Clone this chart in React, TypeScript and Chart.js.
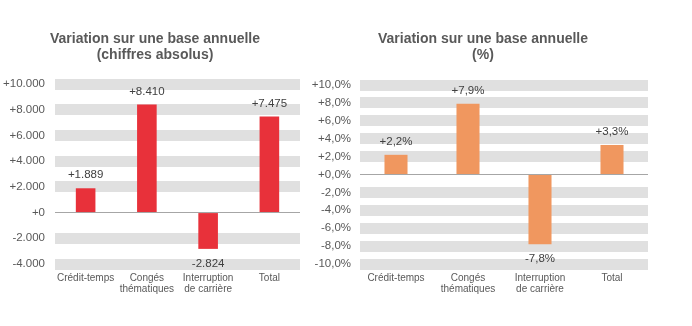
import React, { useEffect, useRef } from "react";
import { Chart, registerables } from "chart.js";

Chart.register(...registerables);

const categories: string[][] = [
  ["Crédit-temps"],
  ["Congés", "thématiques"],
  ["Interruption", "de carrière"],
  ["Total"],
];
const absoluteValues: number[] = [1889, 8410, -2824, 7475];
const percentValues: number[] = [2.2, 7.9, -7.8, 3.3];
const absTitle: string[] = ["Variation sur une base annuelle", "(chiffres absolus)"];
const pctTitle: string[] = ["Variation sur une base annuelle", "(%)"];

const FONT = "'Liberation Sans', Arial, sans-serif";

const fmtAbs = (v: number) => {
  const s = Math.abs(Math.round(v)).toString().replace(/\B(?=(\d{3})+(?!\d))/g, ".");
  return (v < 0 ? "-" : "+") + s;
};
const fmtPct = (v: number) => {
  const s = Math.abs(v).toFixed(1).replace(".", ",");
  return (v < 0 ? "-" : "+") + s + "%";
};

const labelPlugin = (fmt: (v: number) => string) => ({
  id: "barLabels",
  afterDatasetsDraw(chart: any) {
    const ctx = chart.ctx;
    const meta = chart.getDatasetMeta(0);
    const data = chart.data.datasets[0].data as number[];
    ctx.save();
    ctx.font = `11.5px ${FONT}`;
    ctx.fillStyle = "#404040";
    ctx.textAlign = "center";
    ctx.textBaseline = "middle";
    meta.data.forEach((bar: any, i: number) => {
      const v = data[i];
      const y = v >= 0 ? bar.y - 13 : bar.y + 14.5;
      ctx.fillText(fmt(v), bar.x, y);
    });
    ctx.restore();
  },
});

const titlePlugin = (lines: string[], cx: number) => ({
  id: "centeredTitle",
  afterDraw(chart: any) {
    const ctx = chart.ctx;
    ctx.save();
    ctx.font = `bold 14px ${FONT}`;
    ctx.fillStyle = "#595959";
    ctx.textAlign = "center";
    ctx.textBaseline = "middle";
    lines.forEach((t, i) => ctx.fillText(t, cx, 39.5 + 16 * i));
    ctx.restore();
  },
});

function makeConfig(
  values: number[],
  color: string,
  title: string[],
  titleX: number,
  min: number,
  max: number,
  step: number,
  fmt: (v: number) => string,
  yWidth: number,
  yPad: number,
  rightPad: number,
  topPad: number
): any {
  return {
    type: "bar",
    data: {
      labels: categories,
      datasets: [
        {
          data: values,
          backgroundColor: color,
          barPercentage: 0.32,
          categoryPercentage: 1,
        },
      ],
    },
    options: {
      responsive: false,
      animation: false,
      layout: { padding: { left: 0, right: rightPad, top: topPad, bottom: 0 } },
      plugins: {
        legend: { display: false },
        tooltip: { enabled: false },
        title: { display: false },
      },
      scales: {
        x: {
          grid: { display: false, drawTicks: false },
          border: { display: false },
          ticks: {
            color: "#595959",
            font: { family: FONT, size: 10, lineHeight: 1.1 },
            padding: 8.5,
            maxRotation: 0,
            autoSkip: false,
          },
          afterFit: (s: any) => {
            s.height = 62;
          },
        },
        y: {
          min,
          max,
          border: { display: false },
          grid: {
            drawTicks: false,
            color: (c: any) => (c.tick && c.tick.value === 0 ? "#a6a6a6" : "#e0e0e0"),
            lineWidth: (c: any) => (c.tick && c.tick.value === 0 ? 1 : 11),
          },
          ticks: {
            stepSize: step,
            color: "#595959",
            font: { family: FONT, size: 11.5 },
            padding: yPad,
            callback: (v: any) => fmt(Number(v)),
          },
          afterFit: (s: any) => {
            s.width = yWidth;
          },
        },
      },
    },
    plugins: [labelPlugin(fmt), titlePlugin(title, titleX)],
  };
}

export default function App() {
  const leftRef = useRef<HTMLCanvasElement>(null);
  const rightRef = useRef<HTMLCanvasElement>(null);

  useEffect(() => {
    const c1 = new Chart(
      leftRef.current!,
      makeConfig(absoluteValues, "#E8313A", absTitle, 155, -4000, 10000, 2000, fmtAbs, 55, 10, 10, 84)
    );
    const c2 = new Chart(
      rightRef.current!,
      makeConfig(percentValues, "#F0975F", pctTitle, 173, -10, 10, 2, fmtPct, 50, 9, 8, 85)
    );
    return () => {
      c1.destroy();
      c2.destroy();
    };
  }, []);

  return (
    <div style={{ position: "absolute", left: 0, top: 0, width: 692, height: 326, background: "#fff" }}>
      <canvas ref={leftRef} width={310} height={326} style={{ position: "absolute", left: 0, top: 0 }} />
      <canvas ref={rightRef} width={346} height={326} style={{ position: "absolute", left: 310, top: 0 }} />
    </div>
  );
}
